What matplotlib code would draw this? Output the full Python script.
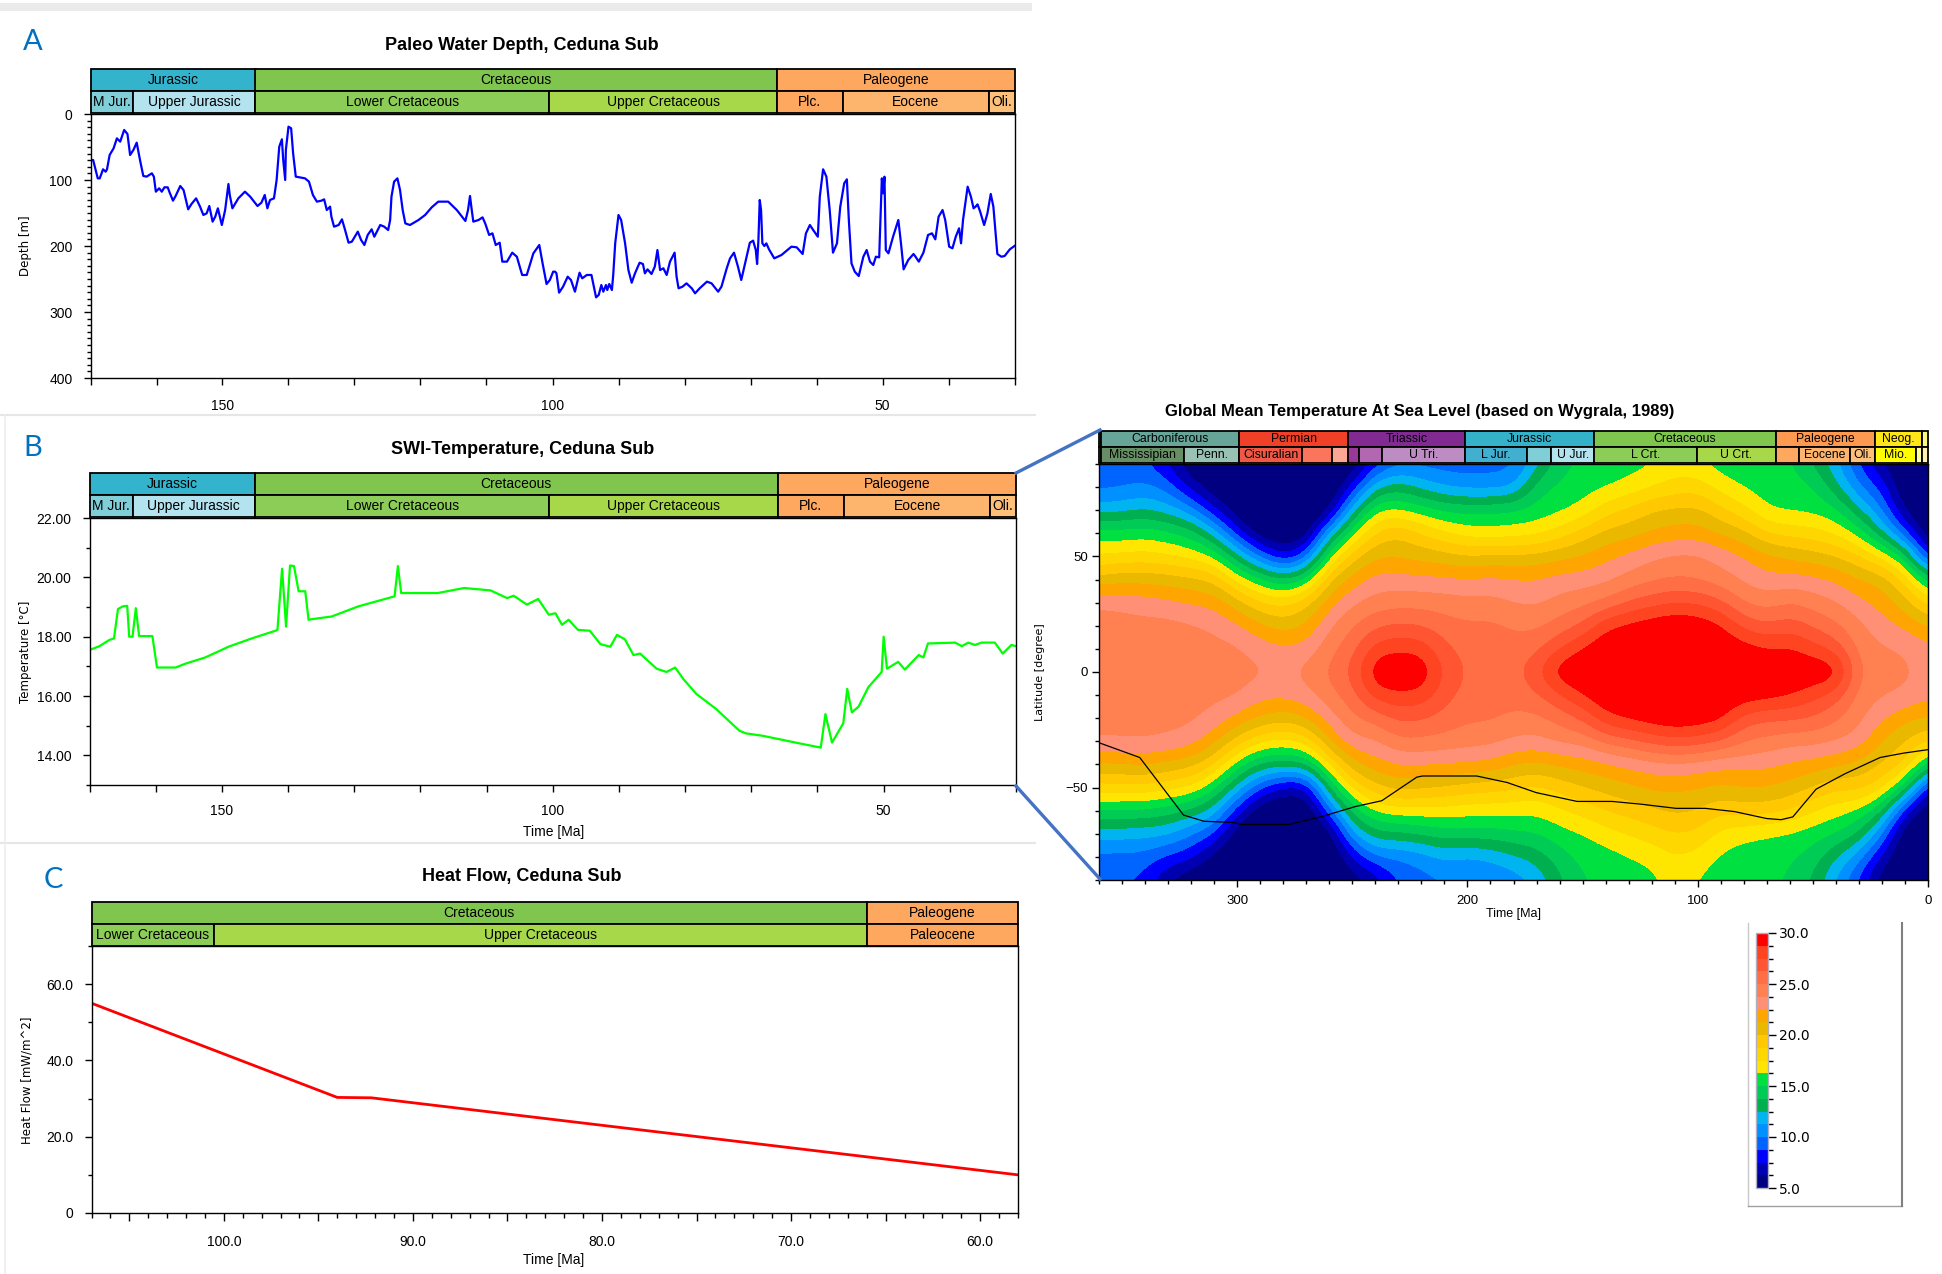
import numpy as np
import matplotlib
matplotlib.use("Agg")
import matplotlib.pyplot as plt
from matplotlib.colors import ListedColormap, BoundaryNorm
from matplotlib.patches import Rectangle
from matplotlib.lines import Line2D
from matplotlib.ticker import MultipleLocator, FixedLocator, FuncFormatter
from matplotlib.cm import ScalarMappable

plt.rcParams['font.family'] = ['Liberation Sans', 'DejaVu Sans']

# ---------------- data ----------------
# Panel A: paleo water depth
depth_time = [169.9, 169.6, 168.9, 168.6, 168.1, 167.7, 167.5, 167.1, 166.5, 166.0, 165.5, 164.9, 164.4, 164.0,
              163.5, 163.0, 162.5, 162.0, 161.5, 160.7, 160.4, 160.1, 159.6, 159.2, 158.8, 158.3, 158.0, 157.5,
              157.1, 156.4, 155.9, 155.2, 154.7, 154.0, 153.4, 152.9, 152.4, 152.0, 151.5, 151.1, 150.7, 150.4,
              150.1, 149.6, 149.1, 148.9, 148.5, 147.6, 146.6, 145.8, 144.7, 144.1, 143.6, 143.2, 142.8, 142.2,
              141.8, 141.4, 141.0, 140.8, 140.5, 140.4, 140.0, 139.6, 139.3, 138.9, 137.5, 136.9, 136.3, 135.7,
              135.0, 134.6, 134.2, 133.7, 133.5, 133.1, 132.4, 131.9, 131.5, 130.9, 130.4, 129.5, 129.0, 128.5,
              128.0, 127.4, 127.0, 126.1, 125.5, 124.9, 124.6, 124.4, 124.0, 123.5, 123.1, 122.7, 122.3, 121.6,
              120.3, 119.3, 118.3, 117.3, 115.8, 114.5, 113.2, 112.8, 112.5, 112.3, 112.0, 111.2, 110.6, 110.2,
              109.6, 109.1, 108.6, 108.0, 107.6, 106.9, 106.1, 105.4, 104.6, 103.9, 102.9, 102.0, 101.5, 100.9,
              100.4, 99.9, 99.6, 99.4, 99.0, 98.4, 97.7, 97.2, 96.6, 95.9, 95.5, 94.8, 94.1, 93.4, 93.0, 92.6,
              92.3, 91.9, 91.7, 91.4, 91.0, 90.8, 90.5, 90.0, 89.6, 89.0, 88.5, 88.0, 87.5, 86.8, 86.3, 86.0,
              85.6, 85.0, 84.5, 84.1, 83.7, 83.2, 82.7, 82.2, 81.5, 81.2, 80.9, 80.3, 79.7, 78.9, 78.4, 77.7,
              76.6, 75.9, 74.9, 74.4, 73.6, 73.1, 72.5, 71.9, 71.4, 70.8, 70.1, 69.6, 69.2, 69.0, 68.8, 68.6,
              68.4, 68.2, 67.9, 67.6, 67.2, 66.4, 65.3, 63.8, 63.0, 62.1, 61.6, 61.0, 60.5, 59.8, 59.5, 59.0,
              58.5, 58.0, 57.5, 56.9, 56.4, 55.8, 55.4, 55.1, 54.7, 54.2, 53.6, 52.9, 52.4, 51.9, 51.4, 51.0,
              50.5, 50.4, 50.1, 49.9, 49.7, 49.5, 49.1, 48.4, 47.6, 47.2, 46.8, 46.1, 45.3, 45.0, 44.5, 43.8,
              43.1, 42.5, 42.0, 41.5, 40.9, 40.5, 39.9, 39.4, 38.9, 38.4, 38.1, 37.8, 37.1, 36.6, 36.2, 35.9,
              35.6, 35.2, 34.6, 34.1, 33.6, 33.2, 32.6, 32.0, 31.5, 30.7, 30.0]
depth_m = [69.7, 69.7, 97.5, 97.5, 83.8, 87.4, 83.8, 62.1, 52.0, 36.9, 41.9, 24.2, 30.3, 62.1,
           54.5, 43.4, 69.7, 93.9, 94.9, 89.9, 94.9, 117.7, 112.6, 117.7, 111.1, 111.1, 119.2, 131.3,
           124.2, 109.1, 115.2, 144.4, 136.4, 127.8, 140.4, 153.0, 150.5, 139.4, 163.1, 155.6, 142.9, 155.6,
           168.2, 145.5, 106.1, 122.7, 142.9, 127.8, 117.7, 125.3, 139.4, 134.3, 122.7, 142.9, 130.3, 127.8,
           100.0, 49.5, 38.4, 69.7, 100.0, 54.5, 19.2, 21.7, 59.6, 94.9, 97.5, 102.5, 122.7, 132.8,
           131.3, 129.3, 145.5, 140.4, 155.6, 170.7, 168.2, 159.6, 173.2, 195.0, 193.4, 178.3, 190.9, 198.5,
           183.3, 174.7, 185.9, 168.2, 170.7, 175.8, 160.6, 125.3, 102.5, 97.5, 115.2, 145.5, 165.7, 168.2,
           160.6, 153.0, 141.4, 132.8, 132.8, 145.5, 162.1, 145.5, 124.2, 140.4, 163.1, 160.6, 156.6, 165.7,
           183.3, 180.8, 198.5, 195.0, 223.7, 223.7, 210.1, 216.2, 243.9, 243.9, 211.1, 198.5, 226.3, 257.6,
           251.5, 238.9, 238.9, 241.4, 270.7, 261.6, 246.5, 251.5, 269.2, 240.4, 249.0, 243.9, 243.9, 277.8, 274.2, 259.1,
           269.2, 259.1, 266.7, 257.6, 266.7, 243.9, 196.0, 153.0, 160.6, 196.0, 236.4, 255.6, 241.4, 225.3, 227.3, 241.4,
           235.4, 242.4, 231.3, 206.1, 236.4, 233.8, 243.9, 223.7, 210.1, 246.5, 264.1, 261.6, 256.6, 264.1, 271.7, 264.1,
           254.0, 256.6, 269.2, 261.6, 233.8, 218.7, 210.1, 231.3, 251.5, 225.3, 195.0, 191.9, 206.1, 227.3, 190.9, 130.3,
           145.5, 196.0, 200.0, 196.0, 205.0, 218.7, 213.6, 201.0, 202.0, 212.1, 180.8, 168.2, 175.8, 185.9, 125.3, 83.8,
           95.0, 145.5, 210.1, 196.0, 140.4, 105.0, 99.0, 160.6, 226.3, 238.9, 245.5, 216.2, 206.1, 223.7, 228.8, 216.2,
           217.2, 185.9, 97.5, 120.2, 95.0, 206.1, 211.1, 185.9, 160.6, 196.0, 235.4, 221.2, 212.1, 216.2, 223.7, 210.1,
           183.3, 180.8, 189.9, 155.6, 145.5, 160.6, 201.0, 203.5, 185.9, 173.2, 196.0, 160.6, 110.1, 125.3, 142.9, 140.4,
           136.9, 148.0, 168.2, 150.5, 121.2, 140.4, 212.1, 216.2, 215.2, 205.0, 200.0]

# Panel B: SWI temperature
swi_time = [170.0, 168.5, 167.0, 166.3, 165.7, 165.0, 164.3, 164.0, 163.5, 163.0, 162.5, 160.5, 159.8, 157.0,
            155.5, 152.5, 149.0, 145.5, 141.9, 141.6, 140.9, 140.3, 139.7, 139.1, 138.4, 137.4, 136.9, 136.4,
            133.4, 129.4, 123.9, 123.4, 122.9, 117.4, 113.4, 109.4, 106.9, 105.9, 103.9, 102.2, 100.6, 99.6,
            98.6, 97.6, 96.2, 94.4, 92.8, 91.3, 90.3, 89.1, 87.8, 86.8, 84.3, 82.8, 81.5, 80.3, 78.3, 75.3,
            71.8, 70.8, 68.3, 63.3, 59.5, 58.8, 57.8, 56.1, 55.5, 54.8, 53.8, 52.3, 50.3, 50.0, 49.5, 47.8,
            46.8, 44.7, 44.0, 43.3, 39.2, 38.2, 37.2, 36.2, 35.2, 33.2, 32.0, 30.7, 30.0]
swi_temp = [17.55, 17.68, 17.89, 17.94, 18.93, 19.02, 19.04, 18.00, 18.00, 18.96, 18.02, 18.02, 16.96, 16.96,
            17.09, 17.30, 17.66, 17.94, 18.20, 18.23, 20.29, 18.34, 20.40, 20.38, 19.53, 19.53, 18.57, 18.59,
            18.68, 19.02, 19.36, 20.38, 19.47, 19.47, 19.64, 19.56, 19.30, 19.38, 19.08, 19.27, 18.74, 18.79,
            18.40, 18.57, 18.23, 18.20, 17.75, 17.66, 18.06, 17.91, 17.38, 17.43, 16.92, 16.81, 16.96, 16.58,
            16.07, 15.56, 14.83, 14.74, 14.66, 14.43, 14.26, 15.39, 14.43, 15.08, 16.24, 15.45, 15.64, 16.30,
            16.81, 18.00, 16.92, 17.15, 16.89, 17.38, 17.30, 17.77, 17.80, 17.68, 17.80, 17.72, 17.80, 17.80,
            17.43, 17.72, 17.68]

# Panel C: heat flow
hf_time = [107.0, 94.0, 92.2, 58.0]
hf_value = [55.0, 30.3, 30.2, 10.0]

# Stratigraphic bars (Ma boundaries, names)
ab_row1_edges = [170, 145, 66, 30]
ab_row1_names = ['Jurassic', 'Cretaceous', 'Paleogene']
ab_row2_edges = [170, 163.5, 145, 100.5, 66, 56, 33.9, 30]
ab_row2_names = ['M Jur.', 'Upper Jurassic', 'Lower Cretaceous', 'Upper Cretaceous', 'Plc.', 'Eocene', 'Oli.']
c_row1_edges = [107, 66, 58]
c_row1_names = ['Cretaceous', 'Paleogene']
c_row2_edges = [107, 100.5, 66, 58]
c_row2_names = ['Lower Cretaceous', 'Upper Cretaceous', 'Paleocene']
d_row1_edges = [360, 359, 299, 252, 201, 145, 66, 23, 2.6, 0]
d_row1_names = ['', 'Carboniferous', 'Permian', 'Triassic', 'Jurassic', 'Cretaceous', 'Paleogene', 'Neog.', '']
d_row2_edges = [360, 359, 323, 299, 272, 259, 252, 247, 237, 201, 174, 163.5, 145, 100.5, 66, 56, 33.9, 23, 5.3, 2.6, 0]
d_row2_names = ['', 'Mississipian', 'Penn.', 'Cisuralian', '', '', '', '', 'U Tri.', 'L Jur.', '', 'U Jur.',
                'L Crt.', 'U Crt.', '', 'Eocene', 'Oli.', 'Mio.', '', '']

# Panel D: global mean temperature (one row per time, values for latitude 90 -> -90)
d_times = [360, 350, 340, 330, 320, 310, 300, 290, 280, 270, 260, 250, 240, 230, 220, 210, 200, 190, 180,
           170, 160, 150, 140, 130, 120, 110, 100, 90, 80, 70, 60, 50, 40, 30, 20, 10, 0]
d_lats = [90, 80, 70, 60, 50, 40, 30, 20, 10, 0, -10, -20, -30, -40, -50, -60, -70, -80, -90]
d_temp = [
    [9.0, 9.5, 11.8, 15.6, 17.5, 20.3, 23.7, 24.3, 24.5, 24.6, 24.5, 24.3, 23.7, 21.2, 18.3, 15.0, 11.8, 9.5, 9.0],
    [9.0, 9.8, 12.0, 15.5, 17.7, 20.9, 23.4, 24.3, 24.5, 24.6, 24.5, 24.3, 23.8, 21.3, 18.4, 14.9, 11.8, 9.5, 8.8],
    [9.0, 10.2, 12.5, 15.8, 17.9, 20.8, 23.1, 24.2, 24.5, 24.5, 24.5, 24.2, 23.9, 21.5, 18.5, 14.8, 11.6, 9.5, 8.5],
    [7.3, 9.5, 11.8, 15.2, 17.6, 20.6, 22.9, 24.2, 24.4, 24.5, 24.4, 24.2, 23.6, 21.0, 18.0, 14.3, 11.5, 8.5, 6.0],
    [5.0, 6.8, 10.5, 14.5, 17.0, 20.3, 22.3, 24.0, 24.3, 24.4, 24.3, 24.0, 23.2, 20.5, 17.5, 13.5, 10.0, 8.0, 5.0],
    [4.5, 5.0, 7.5, 12.0, 16.2, 19.8, 22.2, 23.5, 24.2, 24.3, 24.1, 23.4, 21.8, 19.0, 15.5, 12.0, 9.0, 5.5, 4.5],
    [4.0, 4.5, 5.0, 8.0, 12.8, 17.0, 20.5, 22.8, 24.0, 24.2, 24.0, 22.3, 19.5, 15.8, 12.0, 8.0, 5.0, 4.5, 4.0],
    [4.0, 4.0, 4.0, 5.0, 9.5, 15.3, 18.8, 21.5, 23.2, 24.0, 23.0, 21.2, 17.8, 13.6, 8.8, 5.0, 4.0, 4.0, 4.0],
    [4.0, 4.0, 4.0, 4.5, 7.0, 13.6, 18.3, 20.6, 22.8, 23.6, 22.9, 20.6, 17.2, 13.3, 7.0, 4.5, 4.0, 4.0, 4.0],
    [4.0, 4.0, 4.0, 5.0, 9.0, 15.2, 19.5, 21.3, 23.0, 24.1, 23.4, 21.3, 18.0, 13.8, 6.8, 4.5, 4.0, 4.0, 4.0],
    [4.0, 4.5, 5.5, 11.5, 16.3, 20.0, 22.0, 23.7, 24.6, 25.3, 24.6, 23.3, 21.3, 17.8, 14.0, 9.5, 5.0, 4.5, 4.0],
    [5.0, 7.5, 12.0, 16.0, 19.5, 21.8, 23.6, 24.9, 25.8, 26.6, 25.8, 24.8, 23.6, 21.0, 18.0, 14.5, 11.3, 7.5, 5.5],
    [8.0, 12.3, 16.3, 19.0, 21.2, 23.0, 24.3, 26.0, 28.2, 30.0, 28.3, 25.5, 23.5, 22.0, 19.8, 16.5, 13.5, 10.0, 6.5],
    [9.5, 13.2, 16.3, 20.0, 21.0, 23.0, 24.5, 26.4, 28.6, 30.0, 28.7, 26.6, 24.9, 22.6, 20.7, 17.0, 13.5, 10.0, 9.0],
    [9.4, 12.0, 15.5, 18.7, 20.8, 22.8, 24.5, 26.2, 28.4, 30.0, 28.5, 26.4, 24.8, 22.6, 20.3, 17.0, 14.0, 10.5, 9.5],
    [9.3, 11.0, 14.8, 17.6, 20.5, 22.7, 24.4, 25.5, 26.5, 27.3, 26.7, 25.8, 24.6, 22.5, 20.0, 17.0, 14.5, 11.5, 10.0],
    [9.3, 10.6, 14.6, 16.8, 20.0, 22.6, 24.1, 25.2, 25.8, 26.0, 25.8, 25.2, 24.3, 22.4, 19.5, 16.8, 14.5, 11.0, 9.8],
    [9.5, 10.5, 14.8, 16.6, 20.3, 22.8, 24.2, 25.3, 25.8, 26.0, 25.8, 25.2, 24.2, 22.2, 19.3, 16.7, 14.5, 11.5, 10.0],
    [9.6, 10.8, 15.0, 16.8, 20.2, 22.6, 23.7, 24.8, 25.5, 25.8, 25.5, 24.7, 23.6, 21.3, 19.0, 16.7, 14.8, 12.3, 10.5],
    [12.0, 14.5, 15.5, 17.0, 20.4, 22.5, 23.5, 24.7, 25.9, 27.3, 26.1, 24.7, 23.4, 21.0, 18.5, 16.5, 15.0, 13.0, 11.5],
    [14.5, 15.3, 15.9, 18.0, 20.9, 23.0, 24.2, 25.5, 27.5, 30.0, 27.5, 25.5, 24.1, 21.5, 19.3, 17.3, 15.8, 14.5, 13.5],
    [15.3, 15.7, 16.5, 19.3, 21.3, 23.1, 24.6, 26.4, 29.0, 30.0, 29.0, 26.5, 24.2, 21.8, 20.0, 18.0, 16.2, 15.4, 15.0],
    [15.5, 16.0, 18.3, 20.3, 22.2, 23.4, 25.2, 28.6, 30.0, 30.0, 30.0, 28.6, 25.5, 22.3, 20.5, 18.8, 17.0, 15.7, 15.2],
    [15.7, 16.6, 19.0, 20.7, 22.8, 24.2, 26.3, 29.2, 30.0, 30.0, 30.0, 29.2, 26.0, 22.8, 21.0, 19.3, 17.6, 16.2, 15.6],
    [16.1, 17.3, 20.0, 21.3, 23.6, 24.7, 27.0, 29.7, 30.0, 30.0, 30.0, 29.7, 26.8, 23.3, 21.5, 19.8, 18.2, 16.6, 15.9],
    [16.8, 18.0, 20.2, 21.8, 24.0, 25.0, 27.5, 30.0, 30.0, 30.0, 30.0, 30.0, 27.3, 23.5, 21.5, 20.3, 18.8, 17.5, 16.8],
    [16.3, 18.2, 20.3, 21.8, 24.0, 24.8, 27.3, 29.8, 30.0, 30.0, 30.0, 29.8, 27.0, 23.3, 21.3, 20.0, 18.5, 17.0, 16.2],
    [15.6, 16.8, 19.0, 21.0, 23.3, 24.2, 26.5, 29.0, 30.0, 30.0, 30.0, 29.3, 26.3, 22.8, 21.0, 19.0, 17.0, 16.0, 15.5],
    [15.5, 16.0, 17.8, 20.3, 22.5, 23.5, 24.8, 27.0, 29.5, 30.0, 29.8, 26.9, 25.0, 23.0, 21.3, 19.5, 16.5, 15.7, 15.4],
    [15.3, 15.6, 16.1, 18.6, 21.5, 22.8, 24.4, 26.3, 28.8, 30.0, 29.5, 26.5, 24.6, 22.8, 21.3, 19.3, 16.2, 15.6, 15.3],
    [15.2, 15.5, 15.9, 18.2, 21.0, 23.0, 25.0, 27.0, 29.0, 30.0, 29.0, 26.5, 24.2, 22.3, 20.8, 18.8, 16.0, 15.2, 14.8],
    [13.5, 15.2, 15.8, 18.0, 20.5, 22.8, 24.4, 26.0, 28.0, 30.0, 28.0, 26.2, 24.2, 22.0, 20.0, 17.5, 15.6, 14.5, 13.5],
    [11.5, 12.8, 15.3, 17.2, 20.0, 22.3, 23.8, 25.2, 27.0, 30.0, 27.0, 25.2, 23.8, 21.5, 19.0, 16.8, 15.0, 12.5, 11.0],
    [8.5, 10.0, 12.5, 15.8, 18.8, 21.3, 22.8, 24.0, 24.4, 24.9, 24.4, 24.0, 23.3, 20.8, 19.5, 16.0, 13.8, 10.5, 8.5],
    [6.0, 8.3, 10.0, 12.5, 17.2, 20.8, 22.0, 23.0, 23.9, 24.2, 23.9, 22.8, 21.0, 20.0, 18.0, 14.0, 10.0, 7.0, 5.0],
    [4.5, 4.5, 5.5, 9.0, 14.5, 18.5, 20.5, 22.3, 23.7, 24.0, 23.7, 21.5, 20.0, 19.0, 14.8, 7.5, 4.5, 4.5, 4.5],
    [4.5, 4.5, 4.5, 4.5, 7.5, 14.0, 18.2, 21.0, 22.9, 23.3, 22.9, 21.2, 18.8, 14.5, 7.0, 4.5, 4.5, 4.5, 4.5],
]
d_levels = [5.0, 6.25, 7.5, 8.75, 10.0, 11.25, 12.5, 13.75, 15.0, 16.25, 17.5, 18.75, 20.0, 21.25,
            22.5, 23.75, 25.0, 26.25, 27.5, 28.75, 30.0]
track_time = [360, 342.3, 323.3, 314.4, 301.8, 298, 277.7, 263.8, 248.6, 237.2, 222, 219.5, 196, 182.8,
              170.1, 152.4, 137.2, 124.6, 109.4, 96.7, 84, 70.1, 63.8, 58.7, 48.6, 36, 20.8, 10.6, 0]
track_lat = [-30.6, -37.0, -61.9, -64.6, -65.1, -66, -66, -62.7, -58.2, -55.7, -45.5, -45, -45, -47.8,
             -52.2, -56, -56, -57.2, -59, -59, -60.4, -63.4, -63.9, -62.7, -50.7, -44, -37, -35.1, -33.6]

# ---------------- styles ----------------
ab_row1_colors = ['#33B4CC', '#80C54E', '#FDA75F']
ab_row2_colors = ['#80CFD8', '#B3E3EE', '#8CCD57', '#A6D84A', '#FDA75F', '#FDB46C', '#FDC07A']
c_row1_colors = ['#80C54E', '#FDA75F']
c_row2_colors = ['#8CCD57', '#A6D84A', '#FDA75F']
d_row1_colors = ['#CB8C37', '#67A599', '#F04028', '#812B92', '#34B2C9', '#7FC64E', '#FD9A52', '#FFE619', '#F9F97F']
d_row2_colors = ['#E5C468', '#678F66', '#99C2B5', '#EF5845', '#FB745C', '#FBA794', '#983999', '#B168B1',
                 '#BD8CC3', '#42AED0', '#80CFD8', '#B3E3EE', '#8CCD57', '#A6D84A', '#FDA75F', '#FDB46C',
                 '#FDC07A', '#FFFF00', '#FFFF99', '#FFF2AE']
temp_colors = ['#000080', '#0000B0', '#0000FF', '#0064FF', '#0090FF', '#00B4F0', '#00B050', '#00CC55',
               '#00E040', '#FFE600', '#FFD700', '#FFC800', '#EBB800', '#FFA500', '#FF9075', '#FF8050',
               '#FF6E45', '#FF5533', '#FF4422', '#FF0000']

W, H = 1942, 1274
fig = plt.figure(figsize=(W / 100, H / 100), dpi=100)
fig.patch.set_facecolor('white')


def axpx(l, t, r, b):
    return fig.add_axes([l / W, 1 - b / H, (r - l) / W, (b - t) / H])


def ftext(x, y, s, **kw):
    return fig.text(x / W, 1 - y / H, s, **kw)


def fline(x1, y1, x2, y2, **kw):
    fig.add_artist(Line2D([x1 / W, x2 / W], [1 - y1 / H, 1 - y2 / H], transform=fig.transFigure, **kw))


def draw_row(ax, edges, names, colors, y0, fs):
    for i, name in enumerate(names):
        a, b = edges[i], edges[i + 1]
        ax.add_patch(Rectangle((a, y0), b - a, 1, facecolor=colors[i], edgecolor='black',
                               lw=1.3, clip_on=False))
        if name:
            ax.text((a + b) / 2, y0 + 0.5, name, ha='center', va='center', fontsize=fs)


def bar_axes(l, t, r, b, xlim, r1, r2, fs):
    ax = axpx(l, t, r, b)
    ax.set_xlim(*xlim)
    ax.set_ylim(0, 2)
    ax.axis('off')
    draw_row(ax, r1[0], r1[1], r1[2], 1, fs)
    draw_row(ax, r2[0], r2[1], r2[2], 0, fs)
    return ax


def style(ax):
    for s in ax.spines.values():
        s.set_linewidth(1.0)
        s.set_color('black')
    ax.tick_params(which='both', direction='out', color='black', width=1.0)


# panel frames (light grey screenshot borders)
fig.add_artist(Rectangle((0, 1 - 11 / H), 1032 / W, 8 / H, transform=fig.transFigure,
                         facecolor='#EBEBEB', edgecolor='none'))
fline(0, 415, 1035, 415, color='#E6E6E6', lw=1.5)
fline(0, 843, 1035, 843, color='#E6E6E6', lw=1.5)
fline(5, 415, 5, 1274, color='#EEEEEE', lw=1.2)

# ---------------- Panel A ----------------
axA = axpx(90.5, 114, 1014.5, 378)
axA.plot(depth_time, depth_m, color='#0000FF', lw=1.6)
axA.set_xlim(170, 30)
axA.set_ylim(400, 0)
style(axA)
axA.xaxis.set_major_locator(MultipleLocator(10))
axA.xaxis.set_major_formatter(FuncFormatter(lambda v, p: '%d' % v if abs(v % 50) < 1e-6 else ''))
axA.yaxis.set_major_locator(MultipleLocator(100))
axA.yaxis.set_minor_locator(MultipleLocator(10))
axA.tick_params(axis='x', which='major', length=5, pad=10, labelsize=10)
axA.tick_params(axis='y', which='major', length=5, pad=8, labelsize=10)
axA.tick_params(axis='y', which='minor', length=3)
bar_axes(90.5, 69, 1014.5, 113, (170, 30),
         (ab_row1_edges, ab_row1_names, ab_row1_colors),
         (ab_row2_edges, ab_row2_names, ab_row2_colors), 10)
ftext(522, 45, 'Paleo Water Depth, Ceduna Sub', ha='center', va='center', fontsize=13, fontweight='bold')
ftext(33, 42, 'A', ha='center', va='center', fontsize=21, color='#0070C0', family='Lato')
ftext(25, 246, 'Depth [m]', ha='center', va='center', rotation=90, fontsize=8.5, family='DejaVu Sans')

# ---------------- Panel B ----------------
axB = axpx(89.5, 518, 1016, 785)
axB.plot(swi_time, swi_temp, color='#00FF00', lw=1.6)
axB.set_xlim(170, 30)
axB.set_ylim(13, 22)
style(axB)
axB.xaxis.set_major_locator(MultipleLocator(10))
axB.xaxis.set_major_formatter(FuncFormatter(lambda v, p: '%d' % v if abs(v % 50) < 1e-6 else ''))
axB.yaxis.set_major_locator(FixedLocator([14, 16, 18, 20, 22]))
axB.yaxis.set_minor_locator(FixedLocator([13, 15, 17, 19, 21]))
axB.yaxis.set_major_formatter(FuncFormatter(lambda v, p: '%.2f' % v))
axB.tick_params(axis='x', which='major', length=5, pad=9, labelsize=10)
axB.tick_params(axis='y', which='major', length=5, pad=8, labelsize=10)
axB.tick_params(axis='y', which='minor', length=3)
bar_axes(89.5, 473, 1016, 517, (170, 30),
         (ab_row1_edges, ab_row1_names, ab_row1_colors),
         (ab_row2_edges, ab_row2_names, ab_row2_colors), 10)
ftext(523, 450, 'SWI-Temperature, Ceduna Sub', ha='center', va='center', fontsize=13, fontweight='bold')
ftext(33, 448, 'B', ha='center', va='center', fontsize=21, color='#0070C0', family='Lato')
ftext(25, 652, 'Temperature [°C]', ha='center', va='center', rotation=90, fontsize=8.5, family='DejaVu Sans')
ftext(554, 832, 'Time [Ma]', ha='center', va='center', fontsize=10)

# ---------------- Panel C ----------------
axC = axpx(91.5, 946, 1018, 1213)
axC.plot(hf_time, hf_value, color='#FF0000', lw=2.0)
axC.set_xlim(107, 58)
axC.set_ylim(0, 70)
style(axC)
axC.xaxis.set_major_locator(MultipleLocator(5))
axC.xaxis.set_minor_locator(MultipleLocator(1))
axC.xaxis.set_major_formatter(FuncFormatter(lambda v, p: '%.1f' % v if abs(v % 10) < 1e-6 else ''))
axC.yaxis.set_major_locator(FixedLocator([0, 20, 40, 60]))
axC.yaxis.set_minor_locator(FixedLocator([10, 30, 50, 70]))
axC.yaxis.set_major_formatter(FuncFormatter(lambda v, p: '0' if v == 0 else '%.1f' % v))
axC.tick_params(axis='x', which='major', length=6, pad=10, labelsize=10)
axC.tick_params(axis='x', which='minor', length=3.5)
axC.tick_params(axis='y', which='major', length=5, pad=8, labelsize=10)
axC.tick_params(axis='y', which='minor', length=3)
bar_axes(91.5, 902, 1018, 946, (107, 58),
         (c_row1_edges, c_row1_names, c_row1_colors),
         (c_row2_edges, c_row2_names, c_row2_colors), 10)
ftext(522, 877, 'Heat Flow, Ceduna Sub', ha='center', va='center', fontsize=13, fontweight='bold')
ftext(53, 880, 'C', ha='center', va='center', fontsize=21, color='#0070C0', family='Lato')
ftext(27, 1080, 'Heat Flow [mW/m^2]', ha='center', va='center', rotation=90, fontsize=8.5, family='DejaVu Sans')
ftext(554, 1260, 'Time [Ma]', ha='center', va='center', fontsize=10)

# ---------------- Panel D ----------------
axD = axpx(1099, 464, 1928, 880)
T = np.array(d_temp, dtype=float).T
cmap = ListedColormap(temp_colors)
cmap.set_under(temp_colors[0])
cmap.set_over(temp_colors[-1])
norm = BoundaryNorm(d_levels, cmap.N)
dt = abs(d_times[1] - d_times[0])
dl = abs(d_lats[1] - d_lats[0])
axD.imshow(T, cmap=cmap, norm=norm, interpolation='bicubic', interpolation_stage='data',
           extent=[d_times[0] + dt / 2, d_times[-1] - dt / 2, d_lats[-1] - dl / 2, d_lats[0] + dl / 2],
           aspect='auto', origin='upper')
axD.plot(track_time, track_lat, color='black', lw=0.9)
axD.set_xlim(360, 0)
axD.set_ylim(-90, 90)
style(axD)
axD.xaxis.set_major_locator(FixedLocator([300, 200, 100, 0]))
axD.xaxis.set_minor_locator(MultipleLocator(10))
axD.yaxis.set_major_locator(FixedLocator([-50, 0, 50]))
axD.yaxis.set_minor_locator(MultipleLocator(10))
axD.tick_params(which='major', length=5, labelsize=9.5)
axD.tick_params(which='minor', length=3)
axD.tick_params(axis='x', which='major', pad=6)
axD.tick_params(axis='y', which='major', pad=3)
bar_axes(1099, 431, 1928, 463, (360, 0),
         (d_row1_edges, d_row1_names, d_row1_colors),
         (d_row2_edges, d_row2_names, d_row2_colors), 8.8)
ftext(1420, 411, 'Global Mean Temperature At Sea Level (based on Wygrala, 1989)', ha='center',
      va='center', fontsize=12, fontweight='bold')
ftext(1040, 672, 'Latitude [degree]', ha='center', va='center', rotation=90, fontsize=8, family='DejaVu Sans')
ftext(1513, 914, 'Time [Ma]', ha='center', va='center', fontsize=9)

# connectors
fline(1016, 473, 1100, 430, color='#4472C4', lw=2.4)
fline(1016, 786, 1100, 879, color='#4472C4', lw=2.4)

# colorbar
cax = axpx(1756, 933, 1768, 1188)
sm = ScalarMappable(norm=norm, cmap=cmap)
cb = fig.colorbar(sm, cax=cax, orientation='vertical')
cb.set_ticks([5, 10, 15, 20, 25, 30])
cb.ax.yaxis.set_major_formatter(FuncFormatter(lambda v, p: '%.1f' % v))
cb.ax.yaxis.set_ticks(d_levels, minor=True)
cb.ax.tick_params(which='major', length=6, width=1, labelsize=10, pad=2, color='black')
cb.ax.tick_params(which='minor', length=3.5, width=1, color='black')
for lab in cb.ax.get_yticklabels():
    lab.set_family('DejaVu Sans')
cb.outline.set_edgecolor('#B0B0C0')
cb.outline.set_linewidth(1.0)
fline(1748, 923, 1748, 1206, color='#C8C8C8', lw=1.0)
fline(1748, 1206, 1902, 1206, color='#A0A0A0', lw=1.0)
fline(1902, 923, 1902, 1206, color='#808080', lw=1.5)

fig.savefig('out.png', dpi=100, facecolor='white')
